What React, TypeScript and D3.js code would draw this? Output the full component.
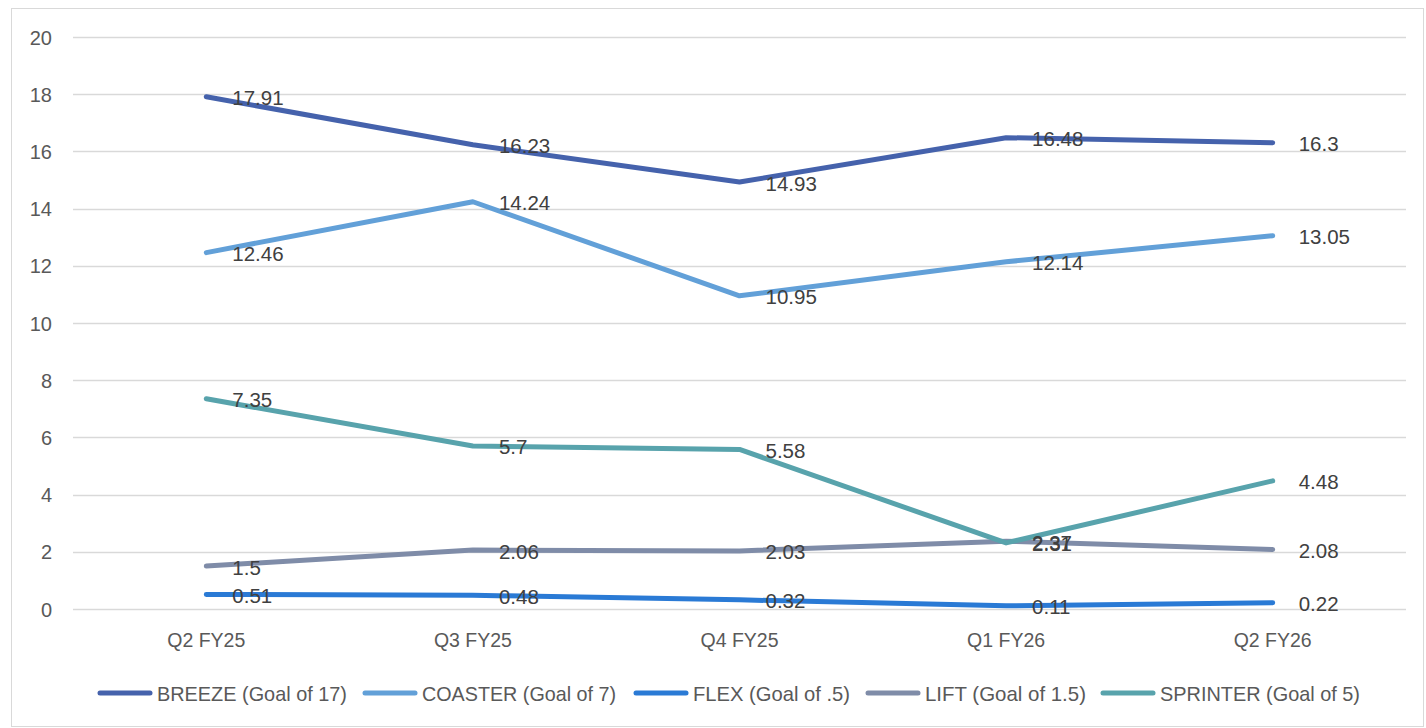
import React from "react";
import * as d3 from "d3";

const categories = ["Q2 FY25", "Q3 FY25", "Q4 FY25", "Q1 FY26", "Q2 FY26"];
const breeze = [17.91, 16.23, 14.93, 16.48, 16.3];
const coaster = [12.46, 14.24, 10.95, 12.14, 13.05];
const flex = [0.51, 0.48, 0.32, 0.11, 0.22];
const lift = [1.5, 2.06, 2.03, 2.37, 2.08];
const sprinter = [7.35, 5.7, 5.58, 2.31, 4.48];
const yTicks = [0, 2, 4, 6, 8, 10, 12, 14, 16, 18, 20];

const series = [
  { name: "BREEZE (Goal of 17)", values: breeze, color: "#4562AC" },
  { name: "COASTER (Goal of 7)", values: coaster, color: "#62A0D8" },
  { name: "FLEX (Goal of .5)", values: flex, color: "#2A7AD5" },
  { name: "LIFT (Goal of 1.5)", values: lift, color: "#7F8CA8" },
  { name: "SPRINTER (Goal of 5)", values: sprinter, color: "#58A3AC" },
];

const legendX = [98, 363, 634, 866, 1101];
const legendTextW = [190, 194, 157, 161, 200];

export default function App() {
  const W = 1426, H = 728;
  const x = d3.scaleBand<string>().domain(categories).range([73, 1406]);
  const y = d3.scaleLinear().domain([0, 20]).range([609, 37]);
  const line = d3
    .line<number>()
    .x((_, i) => (x(categories[i]) as number) + x.bandwidth() / 2)
    .y((d) => y(d));
  const font = "'Liberation Sans', Arial, sans-serif";
  const narrow = "'Liberation Sans Narrow', 'Arial Narrow', 'Liberation Sans', sans-serif";
  return (
    <div style={{ position: "absolute", left: 0, top: 0 }}>
      <svg width={W} height={H} style={{ display: "block" }}>
        <rect x={0} y={0} width={W} height={H} fill="#fff" />
        <rect x={11.5} y={8.5} width={1412} height={718} fill="none" stroke="#d9d9d9" strokeWidth={1} />
        {yTicks.map((t) => (
          <g key={t}>
            <line x1={73} x2={1406} y1={Math.round(y(t)) + 0.5} y2={Math.round(y(t)) + 0.5} stroke="#d9d9d9" strokeWidth={1.3} />
            <text x={52} y={y(t) + 0.5} textAnchor="end" dominantBaseline="central" fontFamily={font} fontSize={20} fill="#595959">
              {t}
            </text>
          </g>
        ))}
        {categories.map((c) => (
          <text key={c} x={(x(c) as number) + x.bandwidth() / 2} y={640} textAnchor="middle" dominantBaseline="central" fontFamily={font} fontSize={19.5} fill="#595959">
            {c}
          </text>
        ))}
        {series.map((s) => (
          <path key={s.name} d={line(s.values) || ""} fill="none" stroke={s.color} strokeWidth={5} strokeLinecap="round" strokeLinejoin="round" />
        ))}
        {series.map((s) =>
          s.values.map((v, i) => (
            <text key={s.name + i} x={(x(categories[i]) as number) + x.bandwidth() / 2 + 26} y={y(v) + 1} dominantBaseline="central" fontFamily={font} fontSize={20.5} fill="#404040">
              {v}
            </text>
          ))
        )}
        {series.map((s, i) => (
          <g key={"lg" + i}>
            <line x1={legendX[i] + 2} x2={legendX[i] + 52} y1={693} y2={693} stroke={s.color} strokeWidth={5} strokeLinecap="round" />
            <text x={legendX[i] + 59} y={693} dominantBaseline="central" fontFamily={narrow} fontSize={21} fill="#595959" textLength={legendTextW[i]} lengthAdjust="spacingAndGlyphs">
              {s.name}
            </text>
          </g>
        ))}
      </svg>
    </div>
  );
}
